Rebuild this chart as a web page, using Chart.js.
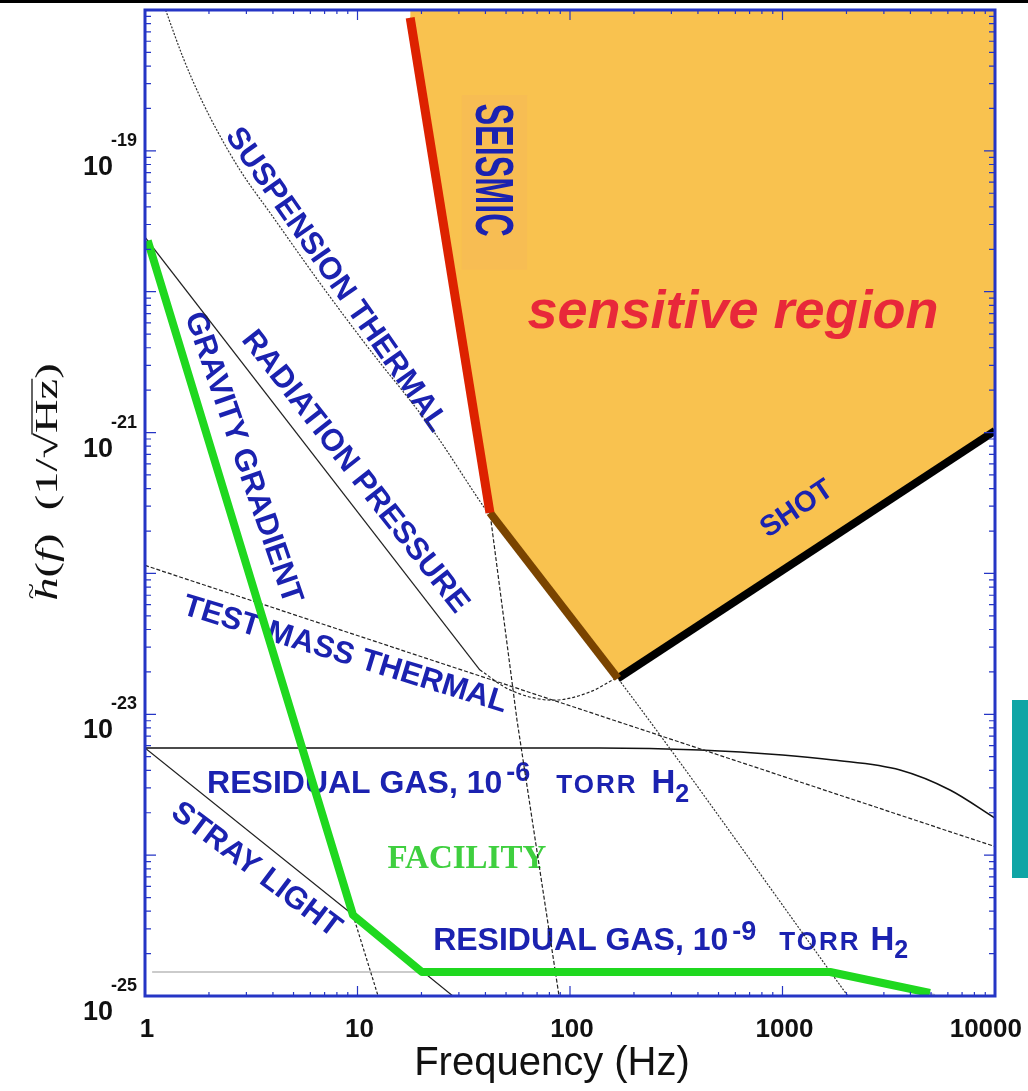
<!DOCTYPE html>
<html>
<head>
<meta charset="utf-8">
<script src="https://cdn.jsdelivr.net/npm/chart.js@4.4.1/dist/chart.umd.min.js"></script>
<style>
  html, body { margin: 0; padding: 0; background: #fff; }
  canvas { display: block; }
</style>
</head>
<body>
<canvas id="myChart" width="1028" height="1091"></canvas>
<script>
// axis ticks
var xTickValues = [1, 10, 100, 1000, 10000];
var xTickLabels = ['1', '10', '100', '1000', '10000'];
var yTickValues = [1e-19, 1e-21, 1e-23, 1e-25];
var yTickExponents = ['-19', '-21', '-23', '-25'];

// noise curves: frequency (Hz) and strain (1/sqrt(Hz))
var suspensionFreq = [1.25, 1.51, 1.82, 2.18, 2.8, 4.0, 6.66, 11.1, 22.6, 41.1, 168, 2030];
var suspensionAmp = [1.0e-18, 4.6e-19, 2.4e-19, 1.4e-19, 7.3e-20, 3.4e-20, 1.15e-20, 4.1e-21, 1.04e-21, 2.7e-22, 1.8e-23, 1.0e-25];

var seismicFreq = [17.7, 42, 56.3, 88.8];
var seismicAmp = [8.8e-19, 2.7e-22, 9.1e-24, 1.0e-25];

var radPressureFreq = [1, 37.7];
var radPressureAmp = [2.44e-20, 2.06e-23];

var quantumFreq = [37.7, 52.2, 83.2, 124, 168];
var quantumAmp = [2.06e-23, 1.49e-23, 1.26e-23, 1.44e-23, 1.84e-23];

var testMassFreq = [1, 100, 10000];
var testMassAmp = [1.14e-22, 1.15e-23, 1.15e-24];

var gas6Freq = [1, 138, 409, 1000, 1729, 3573, 6140, 10000];
var gas6Amp = [5.77e-24, 5.77e-24, 5.58e-24, 5.14e-24, 4.74e-24, 4.02e-24, 2.9e-24, 1.83e-24];

var gas9Freq = [1.08, 1674, 5223];
var gas9Amp = [1.48e-25, 1.48e-25, 1.02e-25];

var strayFreq = [1, 8.92, 28.1];
var strayAmp = [5.77e-24, 4.08e-25, 1.0e-25];

var gravityFreq = [1.03, 9.52, 12.5];
var gravityAmp = [2.3e-20, 3.76e-25, 1.0e-25];

var facilityFreq = [1.03, 9.52, 20.1, 1674, 4943];
var facilityAmp = [2.3e-20, 3.76e-25, 1.48e-25, 1.48e-25, 1.05e-25];

// sensitivity envelope: seismic wall, thermal, shot
var seismicEdgeFreq = [17.7, 42];
var seismicEdgeAmp = [8.8e-19, 2.7e-22];
var thermalEdgeFreq = [42, 168];
var thermalEdgeAmp = [2.7e-22, 1.8e-23];
var shotFreq = [168, 10000];
var shotAmp = [1.8e-23, 1.03e-21];
var regionFreq = [17.7, 42, 168, 10000];
var regionAmp = [8.8e-19, 2.7e-22, 1.8e-23, 1.03e-21];

var sans = '"Liberation Sans", Arial, Helvetica, sans-serif';
var serif = '"Liberation Serif", "DejaVu Serif", "Times New Roman", serif';
var labelBlue = '#1b22b0';
var frameBlue = '#2535c5';

function pts(xs, ys) {
    return xs.map(function (x, i) { return { x: x, y: ys[i] }; });
}

function line(data, opts) {
    opts = opts || {};
    return {
        data: data,
        showLine: true,
        borderColor: opts.color || '#222',
        borderWidth: opts.width || 1.2,
        borderDash: opts.dash || [],
        borderJoinStyle: 'round',
        pointRadius: 0,
        fill: false,
        cubicInterpolationMode: opts.smooth ? 'monotone' : 'default',
        tension: 0,
        order: opts.order === undefined ? 5 : opts.order
    };
}

// labels anchored in data coordinates
var underLabels = [
    { text: 'SUSPENSION THERMAL', freq: 7.92, amp: 1.21e-20, angle: 55, size: 31 },
    { text: 'RADIATION PRESSURE', freq: 9.73, amp: 5.25e-22, angle: 52, size: 31 },
    { text: 'GRAVITY GRADIENT', freq: 2.89, amp: 6.6e-22, angle: 71, size: 31 },
    { text: 'TEST MASS THERMAL', freq: 8.73, amp: 2.64e-23, angle: 17, size: 31 },
    { text: 'STRAY LIGHT', freq: 3.33, amp: 7.85e-25, angle: 37, size: 31 }
];
var topLabels = [
    { text: 'SEISMIC', freq: 42.5, amp: 7.31e-20, angle: 90, size: 54, stretch: 0.6 },
    { text: 'SHOT', freq: 1170, amp: 2.86e-22, angle: -34, size: 29 }
];

var gas6Parts = [
    { t: 'RESIDUAL GAS, 10', size: 32 },
    { t: '-6', size: 27, dy: -12, gap: 4 },
    { t: 'TORR', size: 26, gap: 26, spacing: 2 },
    { t: 'H', size: 33, gap: 14 },
    { t: '2', size: 25, dy: 9 }
];
var gas9Parts = [
    { t: 'RESIDUAL GAS, 10', size: 32 },
    { t: '-9', size: 27, dy: -10, gap: 4 },
    { t: 'TORR', size: 26, gap: 23, spacing: 2 },
    { t: 'H', size: 33, gap: 10 },
    { t: '2', size: 25, dy: 8 }
];

function drawLabel(ctx, chart, l) {
    var px = chart.scales.x.getPixelForValue(l.freq);
    var py = chart.scales.y.getPixelForValue(l.amp);
    ctx.save();
    ctx.translate(px, py);
    ctx.rotate(l.angle * Math.PI / 180);
    ctx.scale(l.stretch || 1, 1);
    ctx.font = 'bold ' + l.size + 'px ' + sans;
    ctx.fillStyle = labelBlue;
    ctx.textAlign = 'center';
    ctx.textBaseline = 'middle';
    ctx.fillText(l.text, 0, 0);
    ctx.restore();
}

function richText(ctx, parts, x, y) {
    var cx = x;
    ctx.textAlign = 'left';
    ctx.textBaseline = 'alphabetic';
    parts.forEach(function (p) {
        cx += p.gap || 0;
        ctx.font = 'bold ' + p.size + 'px ' + sans;
        ctx.letterSpacing = (p.spacing || 0) + 'px';
        ctx.fillText(p.t, cx, y + (p.dy || 0));
        cx += ctx.measureText(p.t).width;
    });
    ctx.letterSpacing = '0px';
}

var decorPlugin = {
    id: 'decor',
    beforeDatasetsDraw: function (chart) {
        var ctx = chart.ctx;
        var xs = chart.scales.x, ys = chart.scales.y;
        underLabels.forEach(function (l) { drawLabel(ctx, chart, l); });
        ctx.save();
        ctx.fillStyle = labelBlue;
        richText(ctx, gas6Parts, xs.getPixelForValue(1.96), ys.getPixelForValue(2.76e-24));
        richText(ctx, gas9Parts, xs.getPixelForValue(22.7), ys.getPixelForValue(2.12e-25));
        ctx.font = 'bold 33px ' + serif;
        ctx.fillStyle = '#3fcf3f';
        ctx.textAlign = 'center';
        ctx.fillText('FACILITY', xs.getPixelForValue(32.7), ys.getPixelForValue(8.11e-25));
        ctx.restore();
    },
    afterDatasetsDraw: function (chart) {
        var ctx = chart.ctx;
        var xs = chart.scales.x, ys = chart.scales.y;
        // faint pasted-label patch behind SEISMIC
        var bx0 = xs.getPixelForValue(31), bx1 = xs.getPixelForValue(62.8);
        var by0 = ys.getPixelForValue(2.49e-19), by1 = ys.getPixelForValue(1.43e-20);
        ctx.save();
        ctx.fillStyle = 'rgba(240,165,105,0.18)';
        ctx.fillRect(bx0, by0, bx1 - bx0, by1 - by0);
        ctx.restore();
        topLabels.forEach(function (l) { drawLabel(ctx, chart, l); });
        ctx.save();
        ctx.font = 'italic bold 54px ' + sans;
        ctx.fillStyle = '#e8283a';
        ctx.textAlign = 'center';
        ctx.fillText('sensitive region', xs.getPixelForValue(585), ys.getPixelForValue(5.52e-21));
        ctx.restore();
    },
    afterDraw: function (chart) {
        var ctx = chart.ctx;
        var a = chart.chartArea;
        var xs = chart.scales.x, ys = chart.scales.y;
        ctx.save();

        // ticks, inside the frame
        ctx.strokeStyle = frameBlue;
        ctx.lineWidth = 1.2;
        ctx.beginPath();
        var d, m, p, len;
        for (d = -25; d < -18; d++) {
            for (m = 1; m < 10; m++) {
                p = ys.getPixelForValue(m * Math.pow(10, d));
                len = m === 1 ? 11 : 6;
                ctx.moveTo(a.left, p); ctx.lineTo(a.left + len, p);
                ctx.moveTo(a.right, p); ctx.lineTo(a.right - len, p);
            }
        }
        for (d = 0; d < 4; d++) {
            for (m = 1; m < 10; m++) {
                p = xs.getPixelForValue(m * Math.pow(10, d));
                len = m === 1 ? 10 : 4;
                ctx.moveTo(p, a.bottom); ctx.lineTo(p, a.bottom - len);
                ctx.moveTo(p, a.top); ctx.lineTo(p, a.top + len);
            }
        }
        ctx.stroke();

        // frame
        ctx.lineWidth = 3;
        ctx.strokeRect(a.left, a.top, a.right - a.left, a.bottom - a.top);

        // tick labels
        ctx.fillStyle = '#111';
        ctx.textBaseline = 'alphabetic';
        ctx.font = 'bold 26px ' + sans;
        ctx.textAlign = 'center';
        xTickValues.forEach(function (v, i) {
            var w = ctx.measureText(xTickLabels[i]).width;
            var cx = Math.min(xs.getPixelForValue(v) + 2, 1022 - w / 2);
            ctx.fillText(xTickLabels[i], cx, 1037);
        });
        yTickValues.forEach(function (v, i) {
            var p = ys.getPixelForValue(v);
            ctx.textAlign = 'right';
            ctx.font = 'bold 27px ' + sans;
            ctx.fillText('10', 113, p + 24);
            ctx.textAlign = 'left';
            ctx.font = 'bold 18px ' + sans;
            ctx.fillText(yTickExponents[i], 111, p - 5);
        });

        // axis titles
        ctx.font = '40px ' + sans;
        ctx.textAlign = 'center';
        ctx.fillText('Frequency (Hz)', 552, 1075);

        ctx.translate(57, 482);
        ctx.rotate(-Math.PI / 2);
        ctx.scale(1.5, 1);
        var pieces = [
            { t: 'h', f: 'italic 31px ' + serif },
            { t: '(', f: '31px ' + serif },
            { t: 'f', f: 'italic 31px ' + serif },
            { t: ')', f: '31px ' + serif },
            { t: '  (1/', f: '31px ' + serif },
            { t: '\u221A', f: '31px ' + serif },
            { t: 'Hz', f: '31px ' + serif, over: true },
            { t: ')', f: '31px ' + serif }
        ];
        var total = 0;
        pieces.forEach(function (pc) { ctx.font = pc.f; pc.w = ctx.measureText(pc.t).width; total += pc.w; });
        var cx = -total / 2;
        ctx.textAlign = 'left';
        ctx.lineWidth = 1.3;
        ctx.strokeStyle = '#111';
        pieces.forEach(function (pc, i) {
            ctx.font = pc.f;
            ctx.fillText(pc.t, cx, 0);
            if (i === 0) {
                ctx.font = '20px ' + serif;
                ctx.fillText('~', cx + 1, -19);
            }
            if (pc.over) {
                ctx.beginPath();
                ctx.moveTo(cx - 1, -25);
                ctx.lineTo(cx + pc.w, -25);
                ctx.stroke();
            }
            cx += pc.w;
        });
        ctx.restore();

        // scan edge marks of the original figure
        ctx.save();
        ctx.fillStyle = '#000';
        ctx.fillRect(0, 0, chart.width, 3);
        ctx.fillStyle = '#0fa5a5';
        ctx.fillRect(1012, 700, 16, 178);
        ctx.restore();
    }
};

var ctx = document.getElementById('myChart').getContext('2d');
var noiseChart = new Chart(ctx, {
    type: 'scatter',
    data: {
        datasets: [
            line(pts(facilityFreq, facilityAmp), { color: '#1fd81f', width: 8, order: 0 }),
            line(pts(seismicEdgeFreq, seismicEdgeAmp), { color: '#dd2200', width: 9, order: 1 }),
            line(pts(thermalEdgeFreq, thermalEdgeAmp), { color: '#7a4400', width: 8, order: 1 }),
            line(pts(shotFreq, shotAmp), { color: '#000000', width: 8, order: 1 }),
            line(pts(suspensionFreq, suspensionAmp), { dash: [2, 1.5], color: '#333', smooth: true }),
            line(pts(seismicFreq, seismicAmp), { dash: [4, 2] }),
            line(pts(radPressureFreq, radPressureAmp)),
            line(pts(quantumFreq, quantumAmp), { dash: [3, 2], smooth: true }),
            line(pts(testMassFreq, testMassAmp), { dash: [4, 2] }),
            line(pts(gas6Freq, gas6Amp), { color: '#111', width: 1.6, smooth: true }),
            line(pts(gas9Freq, gas9Amp), { color: '#bbbbbb', width: 1.6, order: 6 }),
            line(pts(strayFreq, strayAmp)),
            line(pts(gravityFreq, gravityAmp), { dash: [3, 2] }),
            {
                data: pts(regionFreq, regionAmp),
                showLine: true,
                borderWidth: 0,
                borderColor: 'rgba(0,0,0,0)',
                backgroundColor: '#f9c24f',
                pointRadius: 0,
                tension: 0,
                fill: 'end',
                order: 10
            }
        ]
    },
    options: {
        responsive: false,
        animation: false,
        layout: { padding: { left: 145, right: 33, top: 10, bottom: 95 } },
        plugins: {
            legend: { display: false },
            tooltip: { enabled: false }
        },
        scales: {
            x: { type: 'logarithmic', min: 1, max: 10000, display: false },
            y: { type: 'logarithmic', min: 1e-25, max: 1e-18, display: false }
        }
    },
    plugins: [decorPlugin]
});
</script>
</body>
</html>
